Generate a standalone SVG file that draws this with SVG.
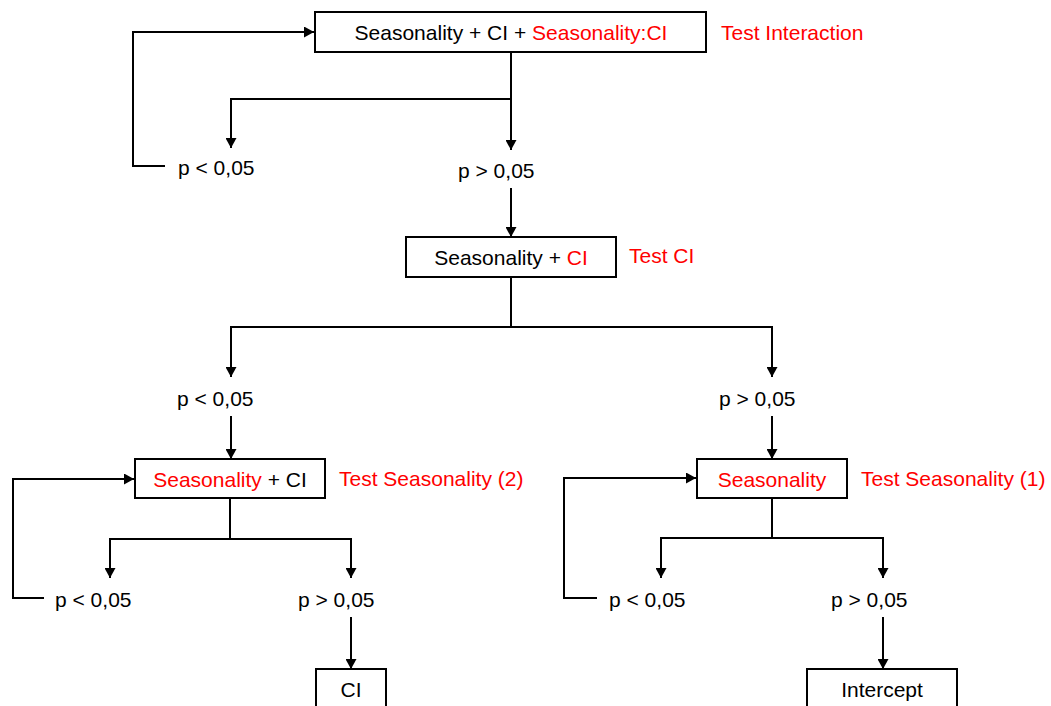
<svg xmlns="http://www.w3.org/2000/svg" width="1051" height="706" viewBox="0 0 1051 706">
<style>
  text { font-family: "Liberation Sans", Arial, sans-serif; font-size: 21px; fill: #000; }
  .red { fill: #FF0000; }
  .box { fill: #fff; stroke: #000; stroke-width: 2; }
  .c { fill: none; stroke: #000; stroke-width: 2; }
  .mid { text-anchor: middle; }
</style>
<defs>
  <marker id="arr" markerUnits="userSpaceOnUse" markerWidth="11" markerHeight="11" refX="10" refY="5.5" orient="auto">
    <path d="M0,0 L10,5.5 L0,11 z" fill="#000"/>
  </marker>
</defs>
<rect width="1051" height="706" fill="#fff"/>

<g id="connectors">
  <path class="c" d="M165,166 H133 V32 H314" marker-end="url(#arr)"/>
  <path class="c" d="M511,52 V99 H231 V148" marker-end="url(#arr)"/>
  <path class="c" d="M511,99 V150" marker-end="url(#arr)"/>
  <path class="c" d="M511,188 V237" marker-end="url(#arr)"/>
  <path class="c" d="M511,277 V327 H231 V377" marker-end="url(#arr)"/>
  <path class="c" d="M511,327 H772 V377" marker-end="url(#arr)"/>
  <path class="c" d="M231,416 V459" marker-end="url(#arr)"/>
  <path class="c" d="M772,416 V459" marker-end="url(#arr)"/>
  <path class="c" d="M44,598 H13 V479 H134" marker-end="url(#arr)"/>
  <path class="c" d="M230,498 V539 H110 V578" marker-end="url(#arr)"/>
  <path class="c" d="M230,539 H351 V578" marker-end="url(#arr)"/>
  <path class="c" d="M351,617 V669" marker-end="url(#arr)"/>
  <path class="c" d="M597,598 H564 V478 H696" marker-end="url(#arr)"/>
  <path class="c" d="M772,498 V538 H661 V578" marker-end="url(#arr)"/>
  <path class="c" d="M772,538 H883 V578" marker-end="url(#arr)"/>
  <path class="c" d="M883,617 V669" marker-end="url(#arr)"/>
</g>

<g id="node-interaction">
  <rect class="box" x="315" y="12" width="391" height="40"/>
  <text class="mid" x="511" y="40">Seasonality + CI + <tspan class="red">Seasonality:CI</tspan></text>
  <text class="red" x="721" y="40">Test Interaction</text>
</g>
<g id="label-top-lt">
  <text x="178" y="175">p &lt; 0,05</text>
</g>
<g id="label-top-gt">
  <text x="458" y="178">p &gt; 0,05</text>
</g>

<g id="node-ci">
  <rect class="box" x="406" y="237" width="210" height="40"/>
  <text class="mid" x="511" y="265">Seasonality + <tspan class="red">CI</tspan></text>
  <text class="red" x="629" y="263">Test CI</text>
</g>
<g id="label-mid-lt">
  <text x="177" y="406">p &lt; 0,05</text>
</g>
<g id="label-mid-gt">
  <text x="719" y="406">p &gt; 0,05</text>
</g>

<g id="node-seasonality2">
  <rect class="box" x="135" y="459" width="190" height="39"/>
  <text class="mid" x="230" y="487"><tspan class="red">Seasonality</tspan> + CI</text>
  <text class="red" x="339" y="486">Test Seasonality (2)</text>
</g>
<g id="node-seasonality1">
  <rect class="box" x="697" y="459" width="150" height="39"/>
  <text class="mid red" x="772" y="487">Seasonality</text>
  <text class="red" x="861" y="486">Test Seasonality (1)</text>
</g>

<g id="label-bl-lt">
  <text x="55" y="607">p &lt; 0,05</text>
</g>
<g id="label-bl-gt">
  <text x="298" y="607">p &gt; 0,05</text>
</g>
<g id="label-br-lt">
  <text x="609" y="607">p &lt; 0,05</text>
</g>
<g id="label-br-gt">
  <text x="831" y="607">p &gt; 0,05</text>
</g>

<g id="node-ci-final">
  <rect class="box" x="316" y="669" width="70" height="50"/>
  <text class="mid" x="351" y="697">CI</text>
</g>
<g id="node-intercept">
  <rect class="box" x="807" y="669" width="150" height="50"/>
  <text class="mid" x="882" y="697">Intercept</text>
</g>
</svg>
